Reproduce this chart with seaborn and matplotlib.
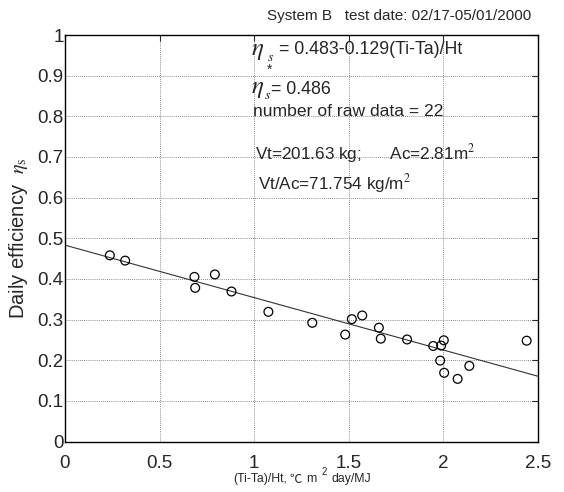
import numpy as np
import pandas as pd
import matplotlib
matplotlib.use("Agg")
import matplotlib.pyplot as plt
import seaborn as sns

# ---- data ----
x_vals = [0.237, 0.318, 0.684, 0.688, 0.792, 0.880, 1.075, 1.307, 1.481, 1.516, 1.571,
          1.659, 1.669, 1.808, 1.946, 1.988, 2.002, 1.983, 2.004, 2.075, 2.137, 2.440]
y_vals = [0.458, 0.445, 0.405, 0.378, 0.411, 0.369, 0.319, 0.292, 0.263, 0.301, 0.310,
          0.280, 0.253, 0.251, 0.235, 0.236, 0.249, 0.199, 0.169, 0.154, 0.186, 0.248]
fit_intercept = 0.483
fit_slope = -0.129
x_ticks = [0, 0.5, 1, 1.5, 2, 2.5]
x_tick_labels = ["0", "0.5", "1", "1.5", "2", "2.5"]
y_ticks = [0, 0.1, 0.2, 0.3, 0.4, 0.5, 0.6, 0.7, 0.8, 0.9, 1]
y_tick_labels = ["0", "0.1", "0.2", "0.3", "0.4", "0.5", "0.6", "0.7", "0.8", "0.9", "1"]
title_text = "System B   test date: 02/17-05/01/2000"
xlabel_parts = ["(Ti-Ta)/Ht,", "℃", "m", "2", "day/MJ"]
ylabel_text = r"Daily efficiency  $\eta_{\rm s}$"
eq_text = "= 0.483-0.129(Ti-Ta)/Ht"
eta_star_text = "= 0.486"
n_text = "number of raw data = 22"
vt_text = r"Vt=201.63 kg;      Ac=2.81m$^2$"
vtac_text = r"Vt/Ac=71.754 kg/m$^2$"

sns.set_style("white")
plt.rcParams["font.family"] = ["Liberation Sans", "DejaVu Sans"]
plt.rcParams["mathtext.fontset"] = "stix"

W, H = 564, 492
fig = plt.figure(figsize=(W / 100, H / 100), dpi=100)
ax = fig.add_axes([65 / W, 1 - 441.5 / H, (538 - 65) / W, (441.5 - 35) / H])


def ptext(px, py, s, **kw):
    """place text at reference pixel position (top-left origin)"""
    return fig.text(px / W, 1 - py / H, s, **kw)


df = pd.DataFrame({"x": x_vals, "y": y_vals})
xlim = (0, 2.5)
fit_df = pd.DataFrame({"x": np.array(xlim, dtype=float)})
fit_df["y"] = fit_intercept + fit_slope * fit_df["x"]

sns.lineplot(data=fit_df, x="x", y="y", ax=ax, color="#333333", linewidth=0.8)
sns.scatterplot(data=df, x="x", y="y", ax=ax, marker="o", s=40,
                facecolor="none", edgecolor="black", linewidth=0.9, zorder=3)

ax.set_xlim(*xlim)
ax.set_ylim(0, 1)
ax.set_xticks(x_ticks)
ax.set_xticklabels(x_tick_labels, fontsize=13.5)
ax.set_yticks(y_ticks)
ax.set_yticklabels(y_tick_labels, fontsize=13.5)
ax.tick_params(direction="in", length=4, top=True, right=True, width=0.8)
ax.tick_params(axis="y", pad=1)
ax.tick_params(axis="x", pad=10)
ax.grid(True, linestyle=(0, (1, 1.5)), color="#666666", linewidth=0.6)
for s in ax.spines.values():
    s.set_color("black")
    s.set_linewidth(1.0)
ax.set_xlabel("")
ax.set_ylabel(ylabel_text, fontsize=14.5, labelpad=5)

ptext(399, 16, title_text, fontsize=11, ha="center", va="center")

# x-axis label, pieced together
xl_kw = dict(fontsize=8.8, ha="left", va="center")
ptext(233, 479, xlabel_parts[0], **xl_kw)
ptext(289, 479, xlabel_parts[1], family=["Noto Sans CJK SC", "DejaVu Sans"], **xl_kw)
ptext(306, 479, xlabel_parts[2], **xl_kw)
ptext(322, 472, xlabel_parts[3], fontsize=7, ha="left", va="center")
ptext(331, 479, xlabel_parts[4], **xl_kw)

# annotation block
eta_kw = dict(fontsize=18, ha="left", va="center")
ptext(251, 50, r"$\eta$", **eta_kw)
ptext(267, 57, r"$s$", fontsize=10, ha="left", va="center")
ptext(279, 50, eq_text, fontsize=12.8, ha="left", va="center")

ptext(251, 88, r"$\eta$", **eta_kw)
ptext(270, 70, "*", fontsize=10, ha="center", va="center")
ptext(264, 95, r"$s$", fontsize=10, ha="left", va="center")
ptext(271, 90, eta_star_text, fontsize=12.8, ha="left", va="center")

ptext(253, 111, n_text, fontsize=12.6, ha="left", va="center")
ptext(255, 154, vt_text, fontsize=12.3, ha="left", va="center")
ptext(258, 184, vtac_text, fontsize=12.3, ha="left", va="center")

fig.savefig("out.png", dpi=100)
